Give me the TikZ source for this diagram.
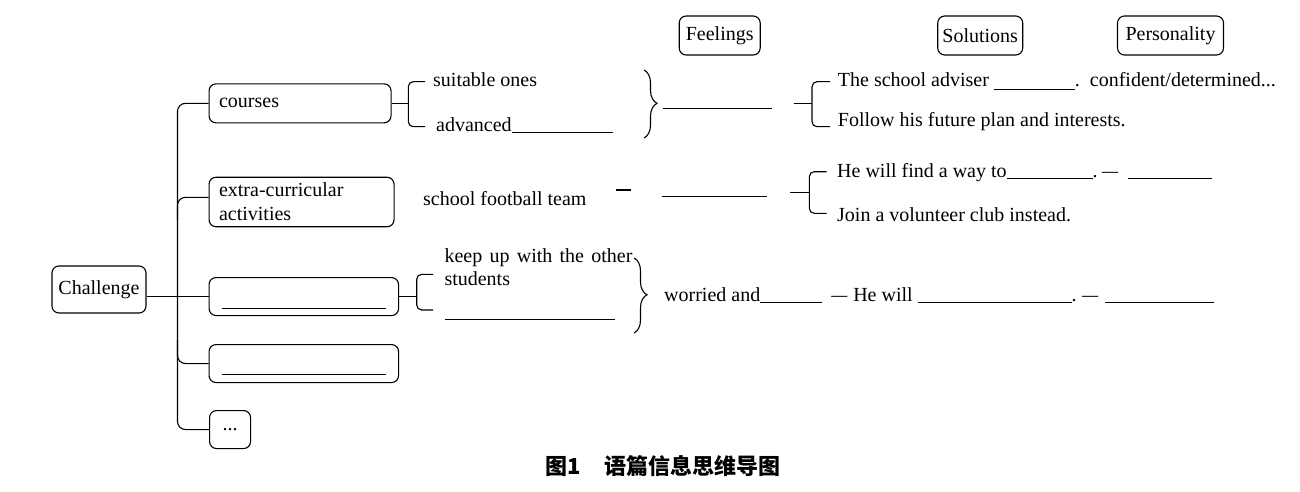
\documentclass[tikz,border=0pt]{standalone}
\usepackage{fontspec}
\setmainfont{Liberation Serif}
\newfontfamily\cjk{Noto Sans CJK SC}
\usetikzlibrary{decorations.pathreplacing}
\newcommand\dsh{\scalebox{0.8}[1]{—}}
\newcommand\blk[1]{\rule[-1.5pt]{#1}{0.8pt}}
\tikzset{
  box/.style={draw, rounded corners=7pt, line width=1.1pt, inner sep=0pt},
  head/.style={box, minimum height=39pt},
  lab/.style={anchor=base west, inner sep=0pt},
  link/.style={line width=1.1pt},
  brc/.style={link, decorate, decoration={brace, amplitude=13pt, aspect=0.49}},
  blankbox/.style={box, anchor=north west, minimum width=189.5pt, minimum height=38pt, text height=12pt, text depth=12pt},
}
\begin{document}
\begin{tikzpicture}[x=1pt,y=-1pt,font=\fontsize{20pt}{24pt}\selectfont]
\useasboundingbox (0,0) rectangle (1300,492);
\fill[white] (0,0) rectangle (1300,492);

% headers
\node[head, minimum width=81pt] (feel) at (719.7,35.5) {Feelings};
\node[head, minimum width=85pt] (sol) at (980.2,35.5) {Solutions};
\node[head, minimum width=106pt] (pers) at (1170.5,35.5) {Personality};

% left tree
\node[box, minimum width=94pt, minimum height=47pt] (chal) at (99,289.5) {Challenge};
\node[box, anchor=north west, minimum height=39pt, text width=162pt, inner xsep=10pt, align=left] (courses) at (208.5,83.3) {courses};
\node[box, anchor=north west, minimum height=49.5pt, text width=165pt, inner xsep=10pt, align=left] (extra) at (208.5,176.7) {extra-curricular\\activities};
\node[blankbox] (b3) at (208.5,277) {\rule[-12pt]{164pt}{0.8pt}};
\node[blankbox] (b4) at (208.5,344) {\rule[-11.5pt]{164pt}{0.8pt}};
\node[box, anchor=north west, minimum width=41pt, minimum height=38pt] (dots) at (209,410) {...};

\coordinate (tt) at (177.5,0);
\draw[link, rounded corners=8pt] (courses.west) -| (tt |- dots.west) -- (dots.west);
\draw[link, rounded corners=8pt] ([yshift=4.7pt]extra.west) -| (177.5,220);
\draw[link, rounded corners=8pt] (177.5,340) |- (b4.west);
\draw[link] (chal.east |- b3.west) -- (b3.west);

% row 1
\coordinate (k1) at (408.3,81.7);
\coordinate (k2) at (408.3,126.7);
\draw[link] (courses.east) -- (courses.east -| k1);
\draw[link, rounded corners=5pt] (425,81.7) -- (k1) -- (k2) -- (425,126.7);
\node[lab] (suit) at (433,86.5) {suitable ones};
\node[lab] (adv) at (436,131.5) {advanced\blk{101pt}};
\draw[brc] (644,70) -- (644,138);
\node[lab] (fb1) at (663,108.7) {\rule{108.7pt}{0.8pt}};
\coordinate (s1) at (812,81.7);
\coordinate (s2) at (812,126.7);
\draw[link] (793.5,103.5) -- (812,103.5);
\draw[link, rounded corners=5pt] (830,81.7) -- (s1) -- (s2) -- (830,126.7);
\node[lab] (adviser) at (837.7,86.7) {The school adviser \rule[-3pt]{81pt}{0.8pt}.};
\node[lab] (conf) at (1089.7,86.7) {confident/determined...};
\node[lab] (follow) at (837.7,127) {Follow his future plan and interests.};

% row 2
\node[lab] (football) at (423,205) {school football team};
\draw[link] (615.5,190) -- (630.5,190);
\node[lab] (fb2) at (661.7,196.4) {\rule{105pt}{0.8pt}};
\coordinate (t1) at (809.3,171.7);
\coordinate (t2) at (809.3,213.3);
\draw[link] (790,192.5) -- (809.3,192.5);
\draw[link, rounded corners=5pt] (826.7,171.7) -- (t1) -- (t2) -- (826.7,213.3);
\node[lab] (findway) at (837,177) {He will find a way to\blk{86pt}.};
\node[lab] (p2) at (1102,177) {\dsh\hspace{10pt}\blk{84pt}};
\node[lab] (join) at (837,221.7) {Join a volunteer club instead.};

% row 3
\coordinate (u1) at (416.7,274.3);
\coordinate (u2) at (416.7,310);
\draw[link] (b3.east) -- (b3.east -| u1);
\draw[link, rounded corners=5pt] (433,274.3) -- (u1) -- (u2) -- (433,310);
\node[lab] (keep) at (444.3,262.7) {\makebox[188pt][s]{keep up with the other}};
\node[lab] (stud) at (444.3,285) {students};
\node[lab] (fb3) at (445,320) {\rule{170pt}{0.8pt}};
\draw[brc] (634,258) -- (634,333);
\node[lab] (worried) at (664,301.7) {worried and\blk{62pt}\hspace{9pt}\dsh\hspace{6pt}He will \blk{154pt}.};
\node[lab] (p3) at (1082,301.7) {\dsh\hspace{7pt}\blk{109pt}};

% caption
\node[anchor=west, inner sep=0pt, font=\cjk\bfseries\fontsize{22pt}{22pt}\selectfont] (cap) at (545,466) {图1\hspace{24pt}语篇信息思维导图};
\end{tikzpicture}
\end{document}
